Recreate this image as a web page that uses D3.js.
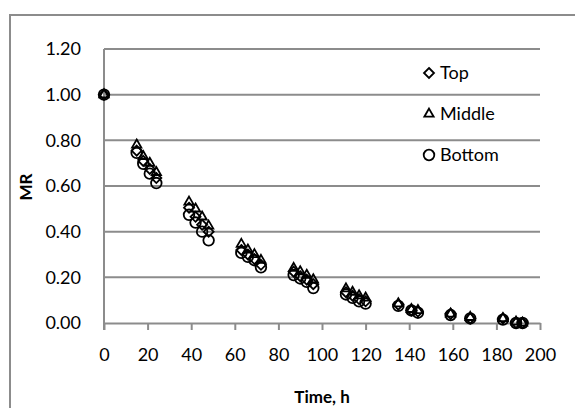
<!DOCTYPE html>
<html>
<head>
<meta charset="utf-8">
<script src="https://cdn.jsdelivr.net/npm/d3@7"></script>
<style>
  body { margin: 0; background: #fff; }
  svg text { font-family: Lato, "Open Sans", sans-serif; fill: #000; }
</style>
</head>
<body>
<div id="chart"></div>
<script>
// time points (h) and moisture ratio for each layer
const times = [0, 15, 18, 21, 24, 39, 42, 45, 48, 63, 66, 69, 72, 87, 90, 93, 96,
  111, 114, 117, 120, 135, 141, 144, 159, 168, 183, 189, 192];
const topMR = [1.00, 0.755, 0.71, 0.675, 0.635, 0.505, 0.465, 0.43, 0.40, 0.32, 0.30, 0.28, 0.255,
  0.225, 0.205, 0.19, 0.17, 0.135, 0.12, 0.105, 0.095, 0.08, 0.055, 0.05, 0.04, 0.02, 0.02, 0.0, 0.0];
const middleMR = [1.00, 0.78, 0.73, 0.70, 0.66, 0.53, 0.50, 0.465, 0.425, 0.345, 0.32, 0.30, 0.275,
  0.24, 0.225, 0.21, 0.19, 0.15, 0.135, 0.12, 0.11, 0.085, 0.06, 0.055, 0.04, 0.025, 0.02, 0.005, 0.0];
const bottomMR = [1.00, 0.745, 0.697, 0.654, 0.613, 0.474, 0.44, 0.40, 0.362, 0.307, 0.29, 0.275, 0.244,
  0.21, 0.195, 0.18, 0.153, 0.125, 0.11, 0.095, 0.085, 0.075, 0.055, 0.045, 0.035, 0.02, 0.015, 0.0, 0.0];
const seriesNames = ["Top", "Middle", "Bottom"];
const xTicks = d3.range(0, 201, 20);
const yTicks = [0, 0.2, 0.4, 0.6, 0.8, 1.0, 1.2];

const width = 575, height = 408;
const margin = { top: 49, right: 35, bottom: 85, left: 104 };

const svg = d3.select("#chart").append("svg")
  .attr("width", width)
  .attr("height", height);

// chart area border
svg.append("rect")
  .attr("x", 10).attr("y", 15)
  .attr("width", 580).attr("height", 420)
  .attr("fill", "none")
  .attr("stroke", "#8c8c8c")
  .attr("stroke-width", 2);

const x = d3.scaleLinear().domain([0, 200]).range([margin.left, width - margin.right]);
const y = d3.scaleLinear().domain([0, 1.2]).range([height - margin.bottom, margin.top]);

// horizontal gridlines
svg.append("g")
  .selectAll("line")
  .data(yTicks.slice(1))
  .enter().append("line")
  .attr("x1", x(0)).attr("x2", x(200))
  .attr("y1", d => y(d)).attr("y2", d => y(d))
  .attr("stroke", "#8c8c8c")
  .attr("stroke-width", 2);

// y axis
const yAxis = svg.append("g")
  .attr("transform", `translate(${x(0)},0)`)
  .call(d3.axisLeft(y).tickValues(yTicks).tickFormat(d3.format(".2f")).tickSize(0).tickPadding(23));
yAxis.select(".domain").attr("stroke", "#8c8c8c").attr("stroke-width", 2)
  .attr("d", `M0,${y(1.2)}V${y(0) + 7}`);
yAxis.selectAll("text").style("font-size", "18px");

// x axis
const xAxis = svg.append("g")
  .attr("transform", `translate(0,${y(0)})`)
  .call(d3.axisBottom(x).tickValues(xTicks).tickSize(7).tickPadding(18).tickSizeOuter(0));
xAxis.select(".domain").attr("stroke", "#8c8c8c").attr("stroke-width", 2);
xAxis.selectAll(".tick line").attr("stroke", "#8c8c8c").attr("stroke-width", 2);
xAxis.selectAll("text").style("font-size", "18px");

// axis titles
svg.append("text")
  .attr("x", x(100)).attr("y", 403)
  .attr("text-anchor", "middle")
  .style("font-size", "17px").style("font-weight", "bold")
  .text("Time, h");

svg.append("text")
  .attr("transform", "translate(32,187) rotate(-90)")
  .attr("text-anchor", "middle")
  .style("font-size", "17px").style("font-weight", "bold")
  .text("MR");

// marker symbols
const symbols = [
  d3.symbol().type(d3.symbolDiamond2).size(64),
  d3.symbol().type(d3.symbolTriangle2).size(62),
  d3.symbol().type(d3.symbolCircle).size(88)
];
const seriesData = [topMR, middleMR, bottomMR];

seriesData.forEach((vals, i) => {
  svg.append("g")
    .selectAll("path")
    .data(times.map((t, j) => ({ t: t, v: vals[j] })))
    .enter().append("path")
    .attr("transform", d => `translate(${x(d.t)},${y(d.v)})`)
    .attr("d", symbols[i])
    .attr("fill", "none")
    .attr("stroke", "#000")
    .attr("stroke-width", 1.8);
});

// legend
const legend = svg.append("g")
  .selectAll("g")
  .data(seriesNames)
  .enter().append("g")
  .attr("transform", (d, i) => `translate(429,${73 + i * 41})`);
legend.append("path")
  .attr("d", (d, i) => symbols[i]())
  .attr("fill", "none")
  .attr("stroke", "#000")
  .attr("stroke-width", 1.8);
legend.append("text")
  .attr("x", 11).attr("y", 6)
  .style("font-size", "18px")
  .text(d => d);
</script>
</body>
</html>
